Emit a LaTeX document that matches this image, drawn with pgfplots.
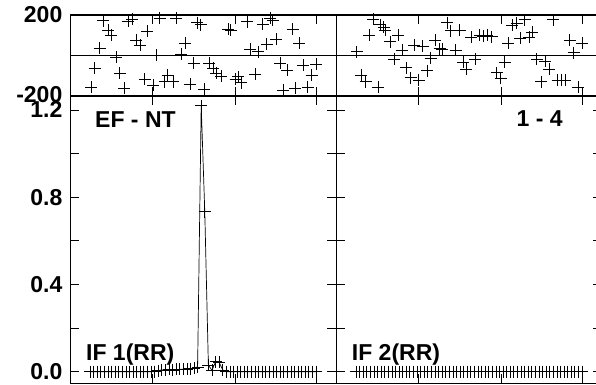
\documentclass[border=0pt]{standalone}
\usepackage{pgfplots}
\pgfplotsset{compat=1.18}
\usepackage{fontspec}
\setmainfont{Liberation Sans}
\newcommand{\lblfont}{\fontsize{23bp}{23bp}\selectfont\bfseries}
\pgfplotstableread{
x y
1.4 -157
2.3 -63
3.7 36
4.6 172
6.0 126
6.9 101
8.3 -9
9.3 -88
10.5 -162
11.6 170
12.8 180
13.9 77
14.9 52
16.2 -118
16.9 121
18.6 -146
19.5 2
20.4 183
21.8 -129
22.7 -96
24.1 -129
25.1 183
26.5 6
27.5 60
28.9 -141
29.9 -39
30.9 162
31.9 153
32.9 -167
34.3 -39
35.3 -63
36.2 -88
37.5 -101
39.5 129
40.2 126
41.6 -118
42.3 -105
43.2 -134
44.8 167
45.7 31
47.1 -91
47.8 19
49.1 156
50.3 55
51.2 184
51.9 175
52.9 80
54.0 -39
54.8 -170
55.9 -72
57.5 129
58.2 -162
59.4 60
60.5 -47
61.7 -157
62.8 -96
64.1 -42
}\phaseA
\pgfplotstableread{
x y
1.2 19
2.4 -96
3.7 -129
4.7 101
5.8 178
7.1 -157
7.8 153
8.7 141
9.2 126
10.6 68
11.6 -19
12.8 99
13.8 27
14.9 -61
16.2 -110
17.2 52
18.5 -121
19.6 47
20.8 -75
21.8 -14
23.0 77
24.3 33
25.1 31
26.4 162
27.4 123
28.8 26
29.9 124
30.8 -33
31.7 -68
33.1 91
34.2 -19
35.5 100
36.5 96
37.6 101
38.8 93
40.2 -85
41.3 -113
42.4 -32
43.5 60
44.6 151
45.8 160
46.8 85
48.0 177
49.2 91
50.2 115
51.4 -19
52.6 -129
53.7 -27
54.8 -69
56.0 177
57.2 -121
58.3 -121
59.3 -121
60.6 75
61.7 14
62.9 -156
64.0 60
}\phaseB
\pgfplotstableread{
x y
1 0
2 0
3 0
4 0
5 0
6 0
7 0
8 0
9 0
10 0
11 0
12 0
13 0
14 0
15 0
16 0
17 0
18 0
19 0
20 0.005
21 0.008
22 0.008
23 0.010
24 0.008
25 0.010
26 0.010
27 0.012
28 0.012
29 0.014
30 0.016
31 0.022
32 1.22
33 0.733
34 0.030
35 0.006
36 0.045
37 0.043
38 0.008
39 0
40 0
41 0
42 0
43 0
44 0
45 0
46 0
47 0
48 0
49 0
50 0
51 0
52 0
53 0
54 0
55 0
56 0
57 0
58 0
59 0
60 0
61 0
62 0
63 0
64 0
}\ampA
\pgfplotstableread{
x y
1 0
2 0
3 0
4 0
5 0
6 0
7 0
8 0
9 0
10 0
11 0
12 0
13 0
14 0
15 0
16 0
17 0
18 0
19 0
20 0
21 0
22 0
23 0
24 0
25 0
26 0
27 0
28 0
29 0
30 0
31 0
32 0
33 0
34 0
35 0
36 0
37 0
38 0
39 0
40 0
41 0
42 0
43 0
44 0
45 0
46 0
47 0
48 0
49 0
50 0
51 0
52 0
53 0
54 0
55 0
56 0
57 0
58 0
59 0
60 0
61 0
62 0
63 0
64 0
}\ampB
\begin{document}
\begin{tikzpicture}
\useasboundingbox (0bp,0bp) rectangle (596bp,385bp);
\pgfplotsset{
  every axis/.append style={
    scale only axis, width=266bp, anchor=south west,
    xmin=-4.576, xmax=69.58,
    xtick={18.4,41.4,64}, xticklabels={},
    tick pos=both, tick align=inside,
    major tick length=9bp,
    tick style={black, line width=0.8bp},
    axis line style={black, line width=1bp},
    ticklabel style={font=\lblfont},
    yticklabel style={inner sep=0pt, xshift=-7.5bp},
    clip=false,
  },
  amp/.style={height=287bp, ymin=-0.052, ymax=1.264,
    ytick={0,0.2,0.4,0.6,0.8,1.0,1.2}},
  pha/.style={height=81bp, ymin=-200, ymax=200,
    ytick={-200,0,200}, ymajorgrids=true,
    grid style={black, line width=0.9bp}},
  pts/.style={black, mark=+, mark size=6bp, line width=0.7bp},
}
% left amplitude
\begin{axis}[amp, at={(70bp,2bp)}, yticklabels={0.0,,0.4,,\raisebox{-2bp}{0.8},,\raisebox{-3bp}{1.2}}]
\addplot[pts] table {\ampA};
\node[anchor=base west, inner sep=0pt, font=\lblfont] at (rel axis cs:0.094,0.889) {EF - NT};
\node[anchor=base west, inner sep=0pt, font=\lblfont] at (rel axis cs:0.06,0.078) {IF 1(RR)};
\end{axis}
% left phase
\begin{axis}[pha, at={(70bp,289bp)}, yticklabels={\raisebox{4bp}{-200},,200}]
\addplot[pts, only marks] table {\phaseA};
\end{axis}
% right amplitude
\begin{axis}[amp, at={(336bp,2bp)}, yticklabels={}]
\addplot[pts] table {\ampB};
\node[anchor=base east, inner sep=0pt, font=\lblfont] at (rel axis cs:0.853,0.892) {1 - 4};
\node[anchor=base west, inner sep=0pt, font=\lblfont] at (rel axis cs:0.059,0.078) {IF 2(RR)};
\end{axis}
% right phase
\begin{axis}[pha, at={(336bp,289bp)}, yticklabels={}]
\addplot[pts, only marks] table {\phaseB};
\end{axis}
\end{tikzpicture}
\end{document}
